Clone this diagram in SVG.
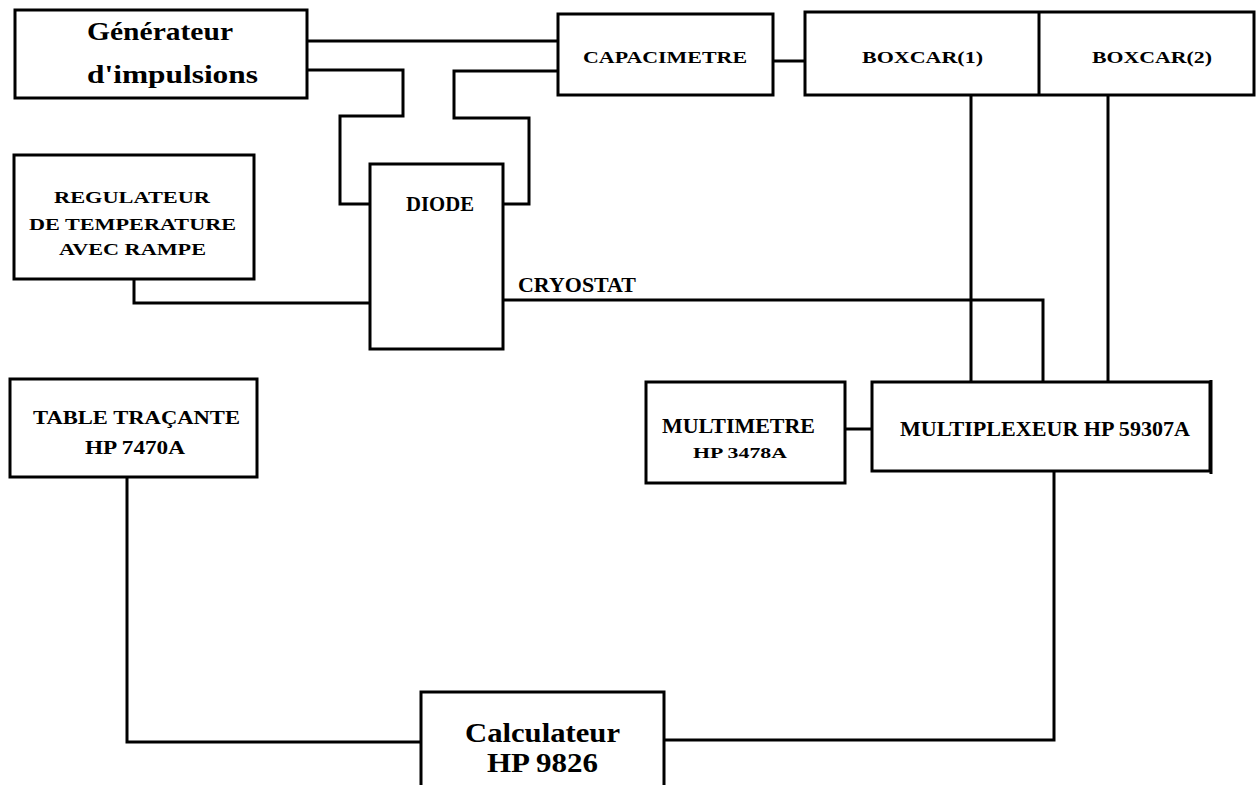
<svg xmlns="http://www.w3.org/2000/svg" width="1256" height="785" viewBox="0 0 1256 785">
<style>
.box{fill:#fff;stroke:#000;stroke-width:3}
.ln{fill:none;stroke:#000;stroke-width:3}
text{font-family:"Liberation Serif","Times New Roman",serif;font-weight:bold;fill:#000}
</style>
<rect width="1256" height="785" fill="#fff"/>
<g id="connectors">
<path class="ln" d="M307,41 H558"/>
<path class="ln" d="M307,70 H403 V116 H340 V204 H370"/>
<path class="ln" d="M558,71 H454 V118 H529 V204 H503"/>
<path class="ln" d="M773,61 H805"/>
<path class="ln" d="M971,95 V382"/>
<path class="ln" d="M1108,95 V382"/>
<path class="ln" d="M134,279 V303 H370"/>
<path class="ln" d="M503,300 H1043 V382"/>
<path class="ln" d="M845,429 H872"/>
<path class="ln" d="M127,477 V742 H421"/>
<path class="ln" d="M1054,471 V740 H664"/>
</g>
<g id="generateur">
<rect class="box" x="15" y="10" width="292" height="88"/>
<text x="87" y="40" font-size="25" textLength="146" lengthAdjust="spacingAndGlyphs">Générateur</text>
<text x="87" y="83" font-size="25" textLength="171" lengthAdjust="spacingAndGlyphs">d'impulsions</text>
</g>
<g id="capacimetre">
<rect class="box" x="558" y="14" width="215" height="81"/>
<text x="583" y="63" font-size="17" textLength="164" lengthAdjust="spacingAndGlyphs">CAPACIMETRE</text>
</g>
<g id="boxcar">
<rect class="box" x="805" y="12" width="449" height="83"/>
<path class="ln" d="M1039,12 V95"/>
<text x="862" y="63" font-size="17" textLength="121" lengthAdjust="spacingAndGlyphs">BOXCAR(1)</text>
<text x="1092" y="63" font-size="17" textLength="120" lengthAdjust="spacingAndGlyphs">BOXCAR(2)</text>
</g>
<g id="diode">
<rect class="box" x="370" y="164" width="133" height="185"/>
<text x="406" y="211" font-size="21" textLength="68" lengthAdjust="spacingAndGlyphs">DIODE</text>
</g>
<g id="regulateur">
<rect class="box" x="14" y="155" width="240" height="124"/>
<text x="54" y="203" font-size="17" textLength="156" lengthAdjust="spacingAndGlyphs">REGULATEUR</text>
<text x="29" y="230" font-size="17" textLength="207" lengthAdjust="spacingAndGlyphs">DE TEMPERATURE</text>
<text x="59" y="255" font-size="17" textLength="147" lengthAdjust="spacingAndGlyphs">AVEC RAMPE</text>
</g>
<g id="cryostat">
<text x="518" y="292" font-size="20" textLength="118" lengthAdjust="spacingAndGlyphs">CRYOSTAT</text>
</g>
<g id="table">
<rect class="box" x="10" y="379" width="247" height="98"/>
<text x="33" y="424" font-size="19" textLength="207" lengthAdjust="spacingAndGlyphs">TABLE TRAÇANTE</text>
<text x="85" y="454" font-size="19" textLength="100" lengthAdjust="spacingAndGlyphs">HP 7470A</text>
</g>
<g id="multimetre">
<rect class="box" x="646" y="382" width="199" height="101"/>
<text x="662" y="433" font-size="20" textLength="153" lengthAdjust="spacingAndGlyphs">MULTIMETRE</text>
<text x="693" y="458" font-size="15" textLength="94" lengthAdjust="spacingAndGlyphs">HP 3478A</text>
</g>
<g id="multiplexeur">
<rect class="box" x="872" y="382" width="338" height="89"/>
<path class="ln" d="M1211,380 V474"/>
<text x="900" y="436" font-size="21" textLength="290" lengthAdjust="spacingAndGlyphs">MULTIPLEXEUR HP 59307A</text>
</g>
<g id="calculateur">
<path class="ln" d="M421,786 V692 H664 V786"/>
<text x="465" y="742" font-size="27" textLength="155" lengthAdjust="spacingAndGlyphs">Calculateur</text>
<text x="487" y="772" font-size="27" textLength="111" lengthAdjust="spacingAndGlyphs">HP 9826</text>
</g>
</svg>
